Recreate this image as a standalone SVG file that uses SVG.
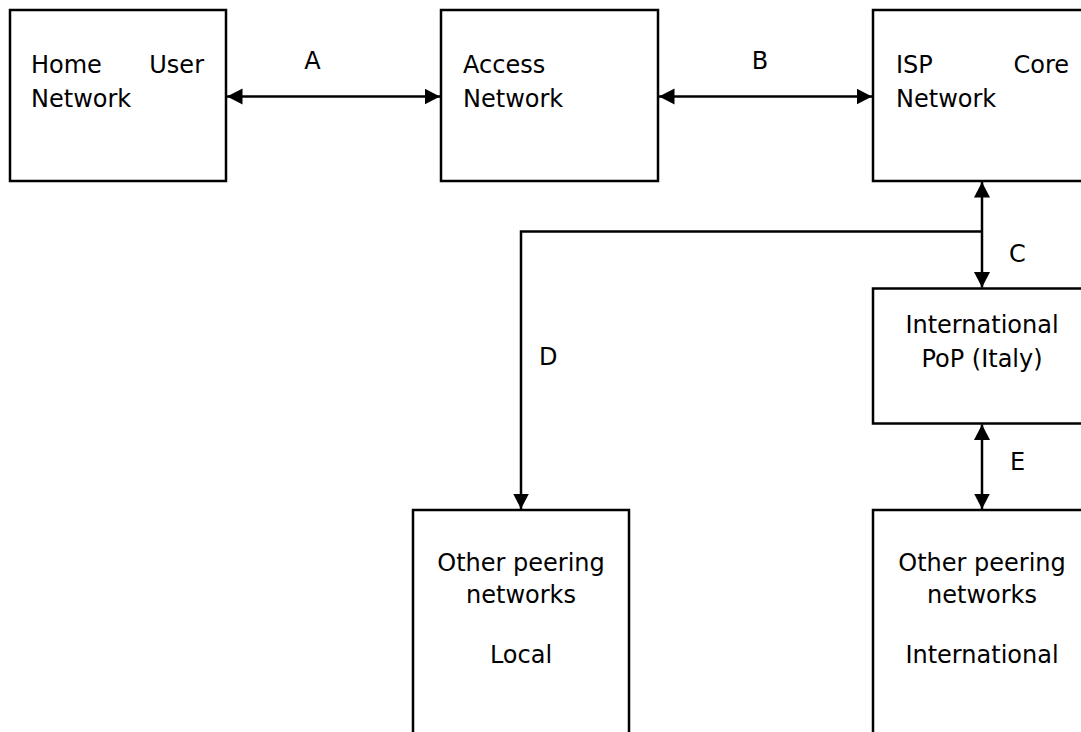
<svg xmlns="http://www.w3.org/2000/svg" width="1081" height="732" viewBox="0 0 1081 732">
<style>
.box{fill:#fff;stroke:#000;stroke-width:2.5}
.ln{fill:none;stroke:#000;stroke-width:2.5}
text{font-family:"DejaVu Sans","Verdana",sans-serif;font-size:24px;fill:#000}
.c{text-anchor:middle}
.e{text-anchor:end}
</style>
<defs>
<marker id="ah" markerUnits="userSpaceOnUse" markerWidth="17" markerHeight="17" viewBox="0 0 17 17" refX="15.5" refY="8" orient="auto-start-reverse">
<path d="M0,0 L15.5,8 L0,16 z" fill="#000"/>
</marker>
</defs>
<rect width="1081" height="732" fill="#fff"/>
<g id="home">
<rect class="box" x="10" y="10" width="216" height="171"/>
<text x="31" y="73">Home</text>
<text class="e" x="204" y="73">User</text>
<text x="31" y="107">Network</text>
</g>
<g id="access">
<rect class="box" x="441" y="10" width="217" height="171"/>
<text x="463" y="73">Access</text>
<text x="463" y="107">Network</text>
</g>
<g id="isp">
<rect class="box" x="873" y="10" width="218" height="171"/>
<text x="896" y="73">ISP</text>
<text class="e" x="1069" y="73">Core</text>
<text x="896" y="107">Network</text>
</g>
<g id="pop">
<rect class="box" x="873" y="288.5" width="218" height="135"/>
<text class="c" x="982" y="333">International</text>
<text class="c" x="982" y="367">PoP (Italy)</text>
</g>
<g id="local">
<rect class="box" x="413" y="510" width="216" height="240"/>
<text class="c" x="521" y="571">Other peering</text>
<text class="c" x="521" y="603">networks</text>
<text class="c" x="521" y="663">Local</text>
</g>
<g id="intl">
<rect class="box" x="873" y="510" width="218" height="240"/>
<text class="c" x="982" y="571">Other peering</text>
<text class="c" x="982" y="603">networks</text>
<text class="c" x="982" y="663">International</text>
</g>
<g id="connectors">
<line class="ln" x1="227" y1="96.5" x2="440" y2="96.5" marker-start="url(#ah)" marker-end="url(#ah)"/>
<line class="ln" x1="659" y1="96.5" x2="872" y2="96.5" marker-start="url(#ah)" marker-end="url(#ah)"/>
<line class="ln" x1="982" y1="182" x2="982" y2="287.5" marker-start="url(#ah)" marker-end="url(#ah)"/>
<polyline class="ln" points="982,231.5 521,231.5 521,509" marker-end="url(#ah)"/>
<line class="ln" x1="982" y1="424.5" x2="982" y2="509" marker-start="url(#ah)" marker-end="url(#ah)"/>
<text class="c" x="312.5" y="69">A</text>
<text class="c" x="760" y="69">B</text>
<text x="1009" y="262">C</text>
<text x="539" y="365">D</text>
<text x="1010" y="470">E</text>
</g>
</svg>
